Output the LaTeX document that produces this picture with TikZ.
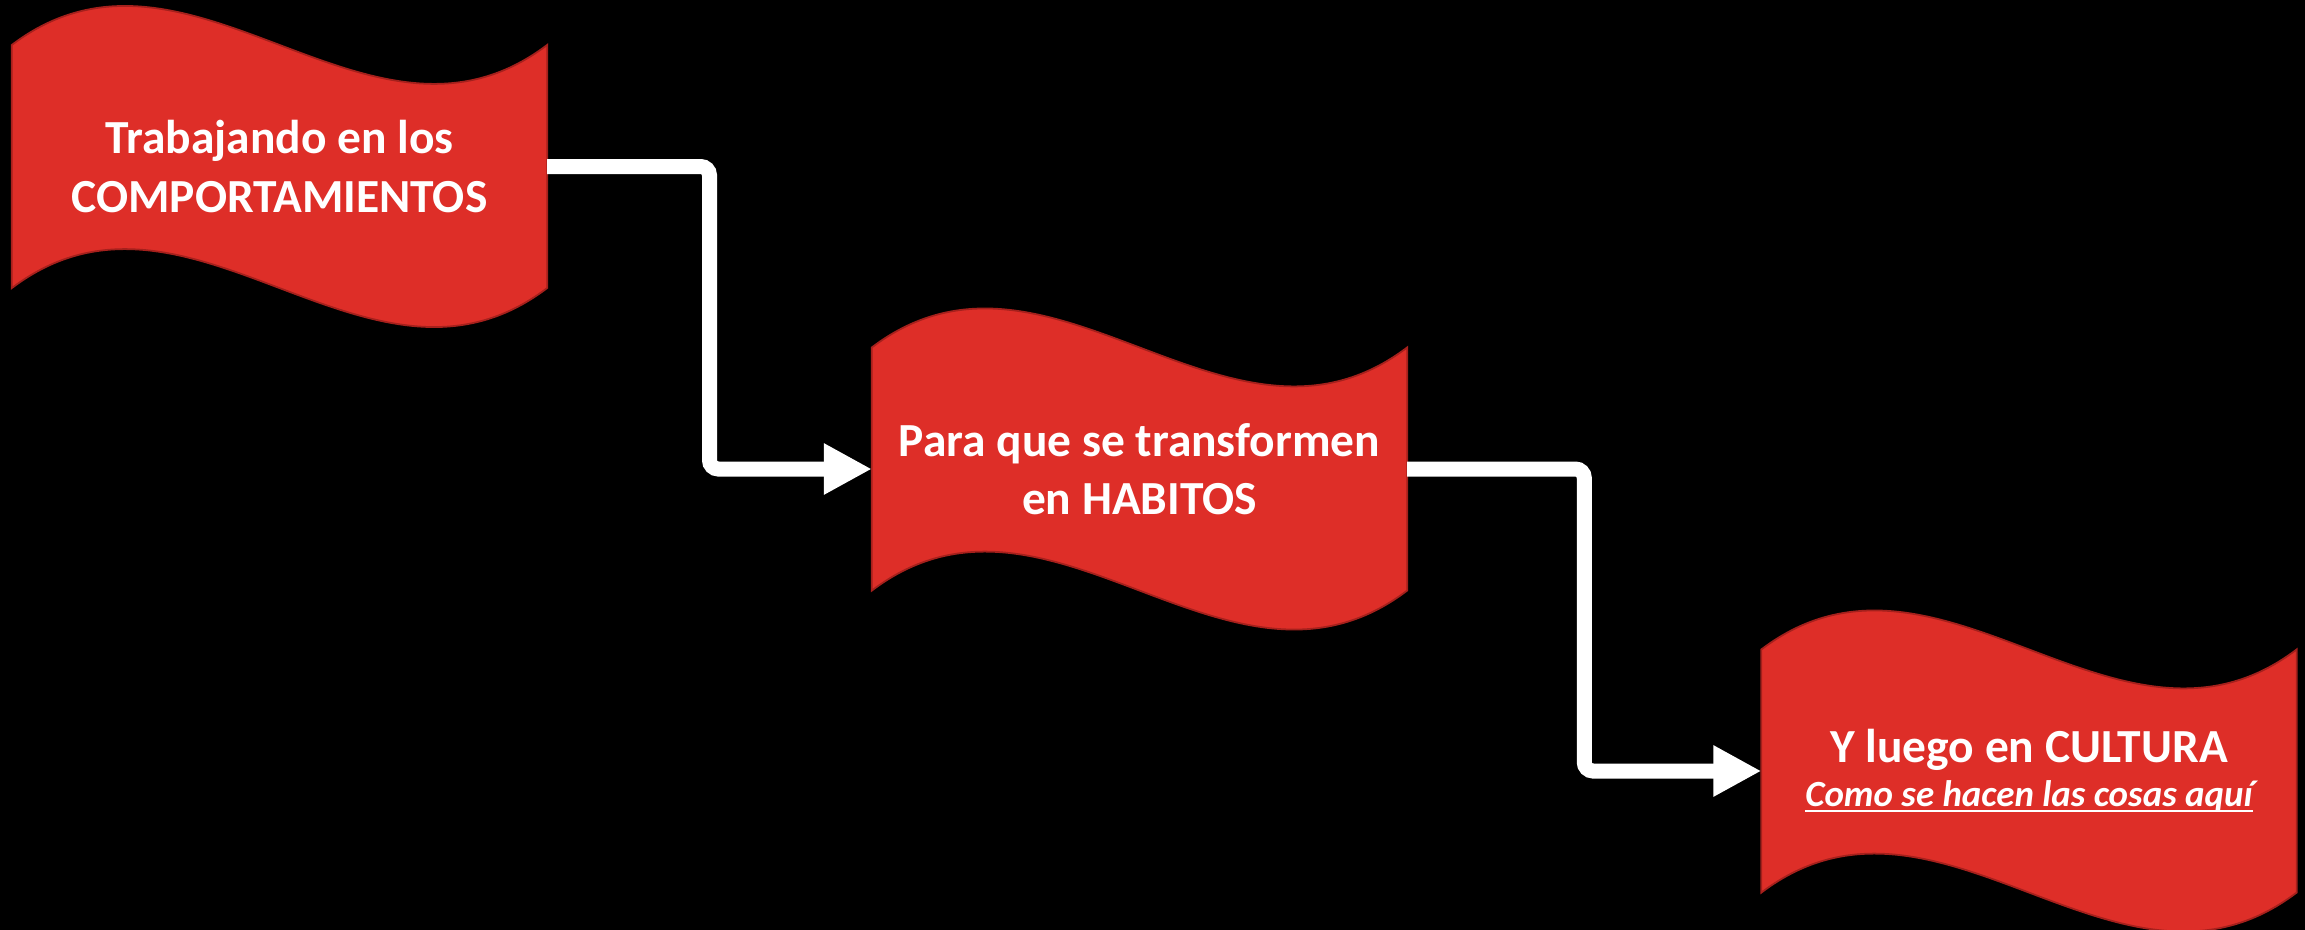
\documentclass[tikz,border=0pt]{standalone}
\usepackage{fontspec}
\setmainfont{Carlito}
\usepackage{tikz}
\usetikzlibrary{arrows.meta,calc,backgrounds}
\definecolor{flagred}{RGB}{222,46,40}
\definecolor{flagedge}{RGB}{165,32,28}
\newcommand{\lineunder}[1]{\setbox0\hbox{#1}\makebox[0pt][l]{\rule[-1.5pt]{\wd0}{0.55pt}}\box0}
\tikzset{flag/.style={fill=flagred, draw=flagedge, line width=0.5pt}}
\tikzset{flagbox/.style={minimum width=5.35cm, minimum height=2.43cm, inner sep=0pt, outer sep=0pt, align=center, text=white, font=\bfseries\fontsize{13.5}{16.5}\selectfont}}
\tikzset{conn/.style={draw=white, line width=0.15cm, rounded corners=2.5pt, -{Triangle[length=0.48cm, width=0.48cm]}}}

\begin{document}
\begin{tikzpicture}[x=0.01cm, y=-0.01cm]
\useasboundingbox (0,0) rectangle (2305,930);
\node[flagbox] (cmp) at (279.5,166.5) {Trabajando en los\\COMPORTAMIENTOS};
\node[flagbox] (hab) at (1139.5,469) {Para que se transformen\\en HABITOS};
\node[flagbox] (cul) at (2029,771) {Y luego en CULTURA\\[-4pt]{\itshape\fontsize{10.5}{13}\selectfont\lineunder{Como se hacen las cosas aquí}}};
\begin{scope}[on background layer]
\fill[black] (0,0) rectangle (2305,930);
\foreach \n in {cmp,hab,cul} {
\draw[flag] (\n.north west) .. controls ($(\n.north west)+(178,-135)$) and ($(\n.north east)+(-178,135)$) .. (\n.north east) -- (\n.south east) .. controls ($(\n.south east)+(-178,135)$) and ($(\n.south west)+(178,-135)$) .. (\n.south west) -- cycle;
}
\end{scope}
\draw[conn] (cmp.east) -| ($(cmp.east)!0.5!(hab.west)$) |- (hab.west);
\draw[conn] (hab.east) -| ($(hab.east)!0.5!(cul.west)$) |- (cul.west);
\end{tikzpicture}
\end{document}
